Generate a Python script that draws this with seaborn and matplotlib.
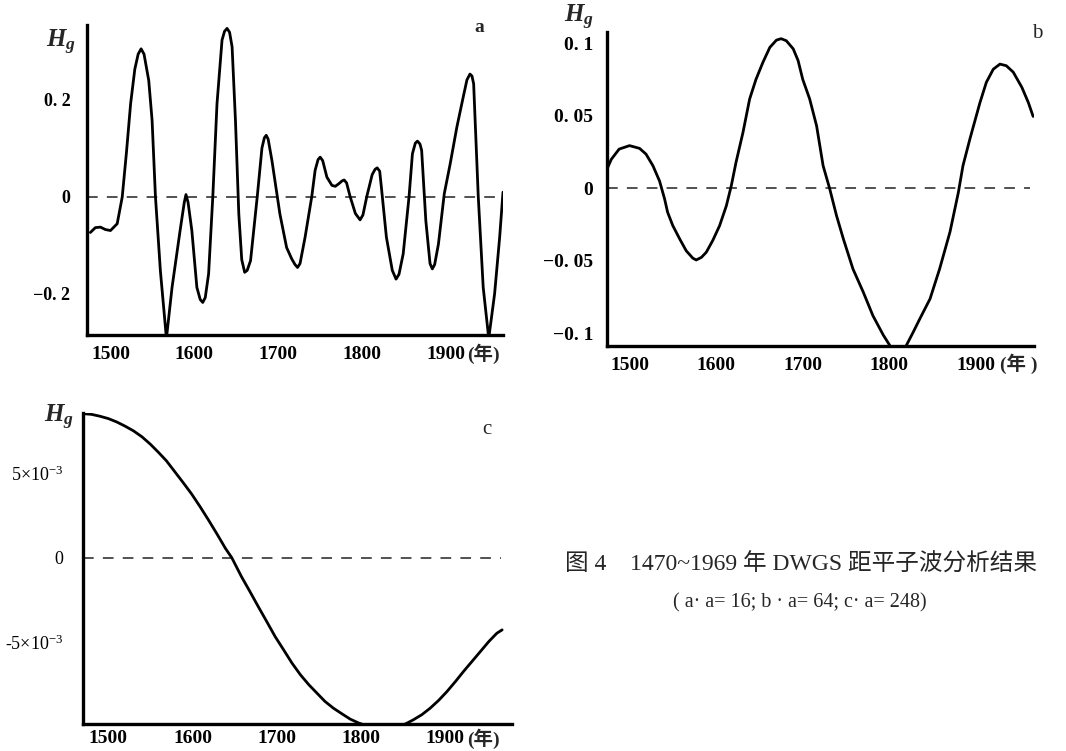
import numpy as np
import pandas as pd
import matplotlib
matplotlib.use("Agg")
import matplotlib.pyplot as plt
import seaborn as sns

# ---------------- data ----------------
a_years = [1476, 1482, 1488, 1494, 1500, 1508, 1514, 1519, 1524, 1529, 1533, 1536.5, 1540, 1545.6,
           1549.6, 1553.6, 1559.5, 1566.7, 1573.4, 1583, 1588, 1590, 1592.5, 1597, 1603, 1607,
           1610, 1613, 1617, 1622, 1627, 1633, 1636, 1639, 1642, 1645, 1649, 1653, 1656.5, 1660,
           1663, 1667, 1675, 1680.6, 1683.5, 1685.7, 1688, 1692.5, 1702, 1710, 1716, 1720, 1723,
           1726, 1732, 1740, 1744, 1747.5, 1750, 1753, 1758, 1764, 1768, 1772, 1776, 1778.6,
           1781.5, 1785.7, 1792, 1797.6, 1801, 1805.6, 1812, 1815.5, 1818, 1821, 1823, 1829,
           1836, 1840.5, 1844, 1849, 1856, 1860, 1863.5, 1866, 1869, 1871, 1876, 1881, 1883.7,
           1886.5, 1891, 1898, 1905, 1913, 1920.6, 1925, 1928.6, 1931, 1933, 1938.5, 1944.4,
           1951, 1958, 1964, 1968]
a_values = [-0.074, -0.064, -0.063, -0.068, -0.070, -0.056, -0.001, 0.090, 0.191, 0.262, 0.293,
            0.304, 0.293, 0.239, 0.157, 0.0, -0.153, -0.292, -0.187, -0.070, -0.012, 0.004,
            -0.012, -0.070, -0.187, -0.212, -0.218, -0.208, -0.159, 0.0, 0.191, 0.322, 0.340,
            0.346, 0.338, 0.308, 0.157, -0.036, -0.130, -0.156, -0.152, -0.132, 0.0, 0.100, 0.121,
            0.126, 0.118, 0.074, -0.036, -0.105, -0.128, -0.140, -0.146, -0.138, -0.084, 0.0,
            0.054, 0.076, 0.081, 0.074, 0.040, 0.023, 0.021, 0.026, 0.032, 0.034, 0.028, 0.0,
            -0.035, -0.048, -0.038, 0.0, 0.045, 0.056, 0.059, 0.052, 0.019, -0.084, -0.152,
            -0.170, -0.160, -0.118, 0.0, 0.088, 0.110, 0.114, 0.108, 0.095, -0.050, -0.138,
            -0.149, -0.140, -0.098, 0.006, 0.067, 0.143, 0.205, 0.240, 0.252, 0.248, 0.232, 0.0,
            -0.187, -0.292, -0.200, -0.084, 0.009]

b_years = [1474, 1479, 1488, 1500, 1511.6, 1519, 1527, 1534.7, 1540.5, 1544, 1550, 1558, 1565.5,
           1573, 1577, 1583, 1588.6, 1596, 1604, 1611.8, 1617.5, 1623, 1631, 1638.7, 1646, 1654,
           1662, 1669.6, 1675, 1681, 1689, 1694.6, 1700, 1708, 1716, 1723.5, 1731, 1739, 1747,
           1758, 1770, 1781, 1793, 1811, 1827.5, 1835, 1847, 1858, 1870, 1879.6, 1885, 1893,
           1904.6, 1912, 1920, 1927.7, 1935, 1943, 1953, 1960.5, 1966]
b_values = [0.0133, 0.0200, 0.0270, 0.0294, 0.0275, 0.0236, 0.0156, 0.0050, -0.0073, -0.0165,
            -0.0257, -0.0349, -0.0430, -0.0480, -0.0493, -0.0475, -0.0440, -0.0360, -0.0257,
            -0.0120, 0.0018, 0.0180, 0.0385, 0.0615, 0.0750, 0.0867, 0.0970, 0.1020, 0.1030,
            0.1016, 0.0960, 0.0880, 0.0750, 0.0615, 0.0430, 0.0156, 0.0, -0.0188, -0.0350,
            -0.0555, -0.0716, -0.0876, -0.1010, -0.1180, -0.0990, -0.0900, -0.0760, -0.0555,
            -0.0300, -0.0030, 0.0156, 0.0340, 0.0590, 0.0730, 0.0820, 0.0855, 0.0844, 0.0800,
            0.0695, 0.0590, 0.0495]

c_years = [1470.3, 1480, 1490, 1500, 1510, 1520, 1530, 1540, 1550, 1559, 1569, 1579, 1589, 1599,
           1609, 1619, 1629, 1639, 1646.5, 1658, 1668, 1678, 1688, 1698, 1708, 1718, 1728, 1738,
           1747.5, 1757, 1767, 1777, 1787, 1797, 1810, 1830, 1852.5, 1862, 1872, 1882, 1892,
           1902, 1912, 1921.5, 1931.5, 1941.5, 1951.5, 1961, 1967.3]
c_values = [8.52e-3, 8.48e-3, 8.37e-3, 8.23e-3, 8.03e-3, 7.78e-3, 7.50e-3, 7.15e-3, 6.71e-3,
            6.26e-3, 5.73e-3, 5.08e-3, 4.43e-3, 3.76e-3, 3.01e-3, 2.22e-3, 1.40e-3, 0.55e-3, 0.0,
            -1.12e-3, -2.00e-3, -2.90e-3, -3.78e-3, -4.67e-3, -5.45e-3, -6.24e-3, -6.93e-3,
            -7.52e-3, -8.01e-3, -8.50e-3, -8.90e-3, -9.23e-3, -9.55e-3, -9.78e-3, -10.00e-3,
            -10.10e-3, -9.84e-3, -9.59e-3, -9.29e-3, -8.90e-3, -8.44e-3, -7.91e-3, -7.32e-3,
            -6.73e-3, -6.14e-3, -5.55e-3, -4.96e-3, -4.47e-3, -4.27e-3]

x_ticks = [1500, 1600, 1700, 1800, 1900]
x_tick_labels = ["1500", "1600", "1700", "1800", "1900"]
a_yticks = [0.2, 0.0, -0.2]
a_ytick_labels = ["0. 2", "0", "\u22120. 2"]
b_yticks = [0.1, 0.05, 0.0, -0.05, -0.1]
b_ytick_labels = ["0. 1", "0. 05", "0", "\u22120. 05", "\u22120. 1"]
c_yticks = [5e-3, 0.0, -5e-3]
c_ytick_labels = ["5\u00d710$^{-3}$", "0", "-5\u00d710$^{-3}$"]

caption1 = "图 4　1470~1969 年 DWGS 距平子波分析结果"
caption2 = "( a· a= 16; b · a= 64; c· a= 248)"

# ---------------- style ----------------
sns.set_theme(style="white")
plt.rcParams['font.family'] = ['Liberation Serif', 'Noto Sans CJK SC', 'DejaVu Sans']
plt.rcParams['mathtext.fontset'] = 'custom'
plt.rcParams['mathtext.rm'] = 'Liberation Serif'
plt.rcParams['mathtext.it'] = 'Liberation Serif:italic:bold'
plt.rcParams['mathtext.bf'] = 'Liberation Serif:bold'

W, H = 1066, 751
fig = plt.figure(figsize=(W / 100, H / 100), dpi=100)
fig.patch.set_facecolor('white')

serif_cjk = ['Liberation Serif', 'Noto Sans CJK SC']


def style_axes(ax, xlim, ylim, yticks, ylabels, ypad, xpad, ylab_weight='bold', ylab_size=13):
    ax.set_xlim(*xlim)
    ax.set_ylim(*ylim)
    for s in ['top', 'right']:
        ax.spines[s].set_visible(False)
    for s in ['left', 'bottom']:
        ax.spines[s].set_linewidth(2.4)
        ax.spines[s].set_color('black')
    ax.set_xticks(x_ticks)
    ax.set_xticklabels(x_tick_labels, fontsize=14, fontweight='bold')
    ax.set_yticks(yticks)
    ax.set_yticklabels(ylabels, fontsize=ylab_size, fontweight=ylab_weight)
    ax.tick_params(axis='both', direction='in', length=8, width=1.0, colors='black')
    ax.tick_params(axis='x', pad=xpad)
    ax.tick_params(axis='y', pad=ypad)
    ax.set_xlabel('')
    ax.set_ylabel('')
    ax.set_facecolor('white')
    ax.grid(False)


def zero_line(ax, x0, x1):
    ax.hlines(0, x0, x1, color='#222222', lw=1.1, linestyles=(0, (7, 6)), zorder=1)


def draw_line(ax, xs, ys):
    df = pd.DataFrame({'year': xs, 'val': ys})
    sns.lineplot(data=df, x='year', y='val', ax=ax, color='black', lw=2.0,
                 estimator=None, sort=False, legend=False, zorder=3)


def year_unit(ax, text, dx, dy):
    ax.annotate(text, xy=(1900, 0), xycoords=('data', 'axes fraction'),
                xytext=(dx, dy), textcoords='offset pixels', ha='left', va='baseline',
                fontsize=14, fontweight='bold', family=serif_cjk, annotation_clip=False)


# panel a
ax_a = fig.add_axes([87 / W, 1 - 335 / H, (503 - 87) / W, (335 - 25) / H])
draw_line(ax_a, a_years, a_values)
style_axes(ax_a, (1472, 1968), (-0.285, 0.353), a_yticks, a_ytick_labels, ypad=12, xpad=8)
zero_line(ax_a, 1472, 1968)
year_unit(ax_a, "(年)", 21, -25)
fig.text(61 / W, 1 - 42 / H, "$H_g$", fontsize=18, ha='center', va='center')
fig.text(479 / W, 1 - 27 / H, "a", fontsize=14, fontweight='bold', ha='center', va='center')

# panel b
ax_b = fig.add_axes([607 / W, 1 - 346 / H, (1034 - 607) / W, (346 - 32) / H])
draw_line(ax_b, b_years, b_values)
style_axes(ax_b, (1474, 1967), (-0.1085, 0.1076), b_yticks, b_ytick_labels, ypad=10, xpad=8,
           ylab_size=14)
zero_line(ax_b, 1474, 1962)
year_unit(ax_b, "(年 )", 24, -24)
fig.text(579 / W, 1 - 17 / H, "$H_g$", fontsize=18, ha='center', va='center')
fig.text(1037 / W, 1 - 33 / H, "b", fontsize=15, ha='center', va='center')

# panel c
ax_c = fig.add_axes([83 / W, 1 - 724 / H, (512 - 83) / W, (724 - 413) / H])
draw_line(ax_c, c_years, c_values)
style_axes(ax_c, (1470, 1979), (-9.84e-3, 8.56e-3), c_yticks, c_ytick_labels, ypad=14, xpad=4,
           ylab_weight='normal', ylab_size=13)
zero_line(ax_c, 1470, 1966)
year_unit(ax_c, "(年)", 22, -21)
fig.text(59 / W, 1 - 417 / H, "$H_g$", fontsize=18, ha='center', va='center')
fig.text(487 / W, 1 - 429 / H, "c", fontsize=15, ha='center', va='center')

# caption
fig.text(801 / W, 1 - 565 / H, caption1, fontsize=17, ha='center', va='center', family=serif_cjk)
fig.text(800 / W, 1 - 603 / H, caption2, fontsize=14.5, ha='center', va='center', family=serif_cjk)

fig.savefig("out.png", dpi=100, facecolor='white')
